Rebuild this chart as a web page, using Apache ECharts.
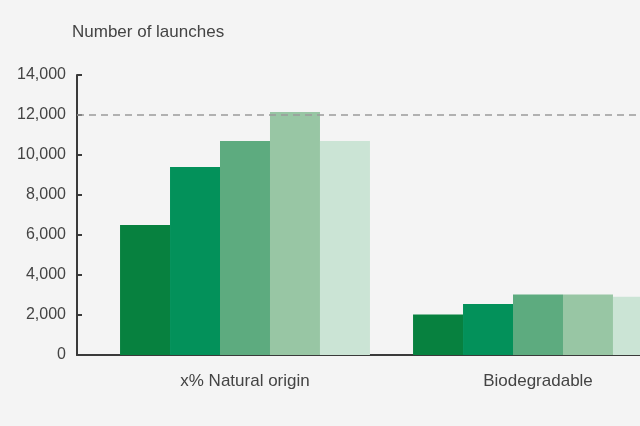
<!DOCTYPE html>
<html>
<head>
<meta charset="utf-8">
<script src="https://cdn.jsdelivr.net/npm/echarts@6/dist/echarts.min.js"></script>
<style>
html,body{margin:0;padding:0;background:#f4f4f4;}
#chart{width:640px;height:426px;}
</style>
</head>
<body>
<div id="chart"></div>
<script>
const categories = ['x% Natural origin', 'Biodegradable'];
const seriesNames = ['Series 1', 'Series 2', 'Series 3', 'Series 4', 'Series 5'];
const series1 = [6500, 2030];
const series2 = [9400, 2550];
const series3 = [10700, 3030];
const series4 = [12150, 3030];
const series5 = [10700, 2910];
const yTicks = { min: 0, max: 14000, interval: 2000 };
const referenceLine = 12000;
const axisTitle = 'Number of launches';

const colors = ['#07813f', '#03915a', '#5dab7f', '#98c6a4', '#cbe4d5'];
const allSeries = [series1, series2, series3, series4, series5];
const font = '"Liberation Sans", Arial, Helvetica, sans-serif';

const chart = echarts.init(document.getElementById('chart'), null, { renderer: 'canvas' });
chart.setOption({
  backgroundColor: '#f4f4f4',
  animation: false,
  title: {
    text: axisTitle, left: 67, top: 19,
    textStyle: { fontFamily: font, fontSize: 17, fontWeight: 'normal', color: '#444' }
  },
  grid: [
    { left: 98.5, width: 586, top: 75, height: 280, outerBoundsMode: 'none', containLabel: false },
    { left: 77, width: 600, top: 75, height: 280, outerBoundsMode: 'none', containLabel: false }
  ],
  xAxis: [
    {
      type: 'category', gridIndex: 0, data: categories,
      axisLine: { show: false }, axisTick: { show: false },
      axisLabel: { margin: 18, fontFamily: font, fontSize: 17, color: '#444' }
    },
    {
      type: 'value', gridIndex: 1, min: 0, max: 1,
      axisLine: { show: true, onZero: false, lineStyle: { color: '#3a3a3a', width: 2 } },
      axisTick: { show: false }, axisLabel: { show: false }, splitLine: { show: false }
    }
  ],
  yAxis: [
    {
      type: 'value', gridIndex: 0, min: yTicks.min, max: yTicks.max, interval: yTicks.interval,
      offset: 21.5,
      axisLine: { show: true, lineStyle: { color: '#3a3a3a', width: 2 } },
      axisTick: { show: true, inside: true, length: 5, lineStyle: { color: '#3a3a3a', width: 2 } },
      axisLabel: {
        margin: 11, fontFamily: font, fontSize: 16, color: '#444',
        formatter: v => v.toLocaleString('en-US')
      },
      splitLine: { show: false }
    },
    {
      type: 'value', gridIndex: 1, min: yTicks.min, max: yTicks.max, show: false
    }
  ],
  series: allSeries.map((d, i) => ({
    name: seriesNames[i], type: 'bar', xAxisIndex: 0, yAxisIndex: 0,
    data: d, barGap: '0%', barCategoryGap: '14.7%',
    itemStyle: { color: colors[i] }
  })).concat([{
    name: 'reference', type: 'line', xAxisIndex: 1, yAxisIndex: 1, data: [], z: 10,
    markLine: {
      silent: true, symbol: ['none', 'none'], label: { show: false },
      lineStyle: { type: [7, 5], color: '#9a9a9a', width: 1.5 },
      data: [{ yAxis: referenceLine }]
    }
  }])
});
</script>
</body>
</html>
